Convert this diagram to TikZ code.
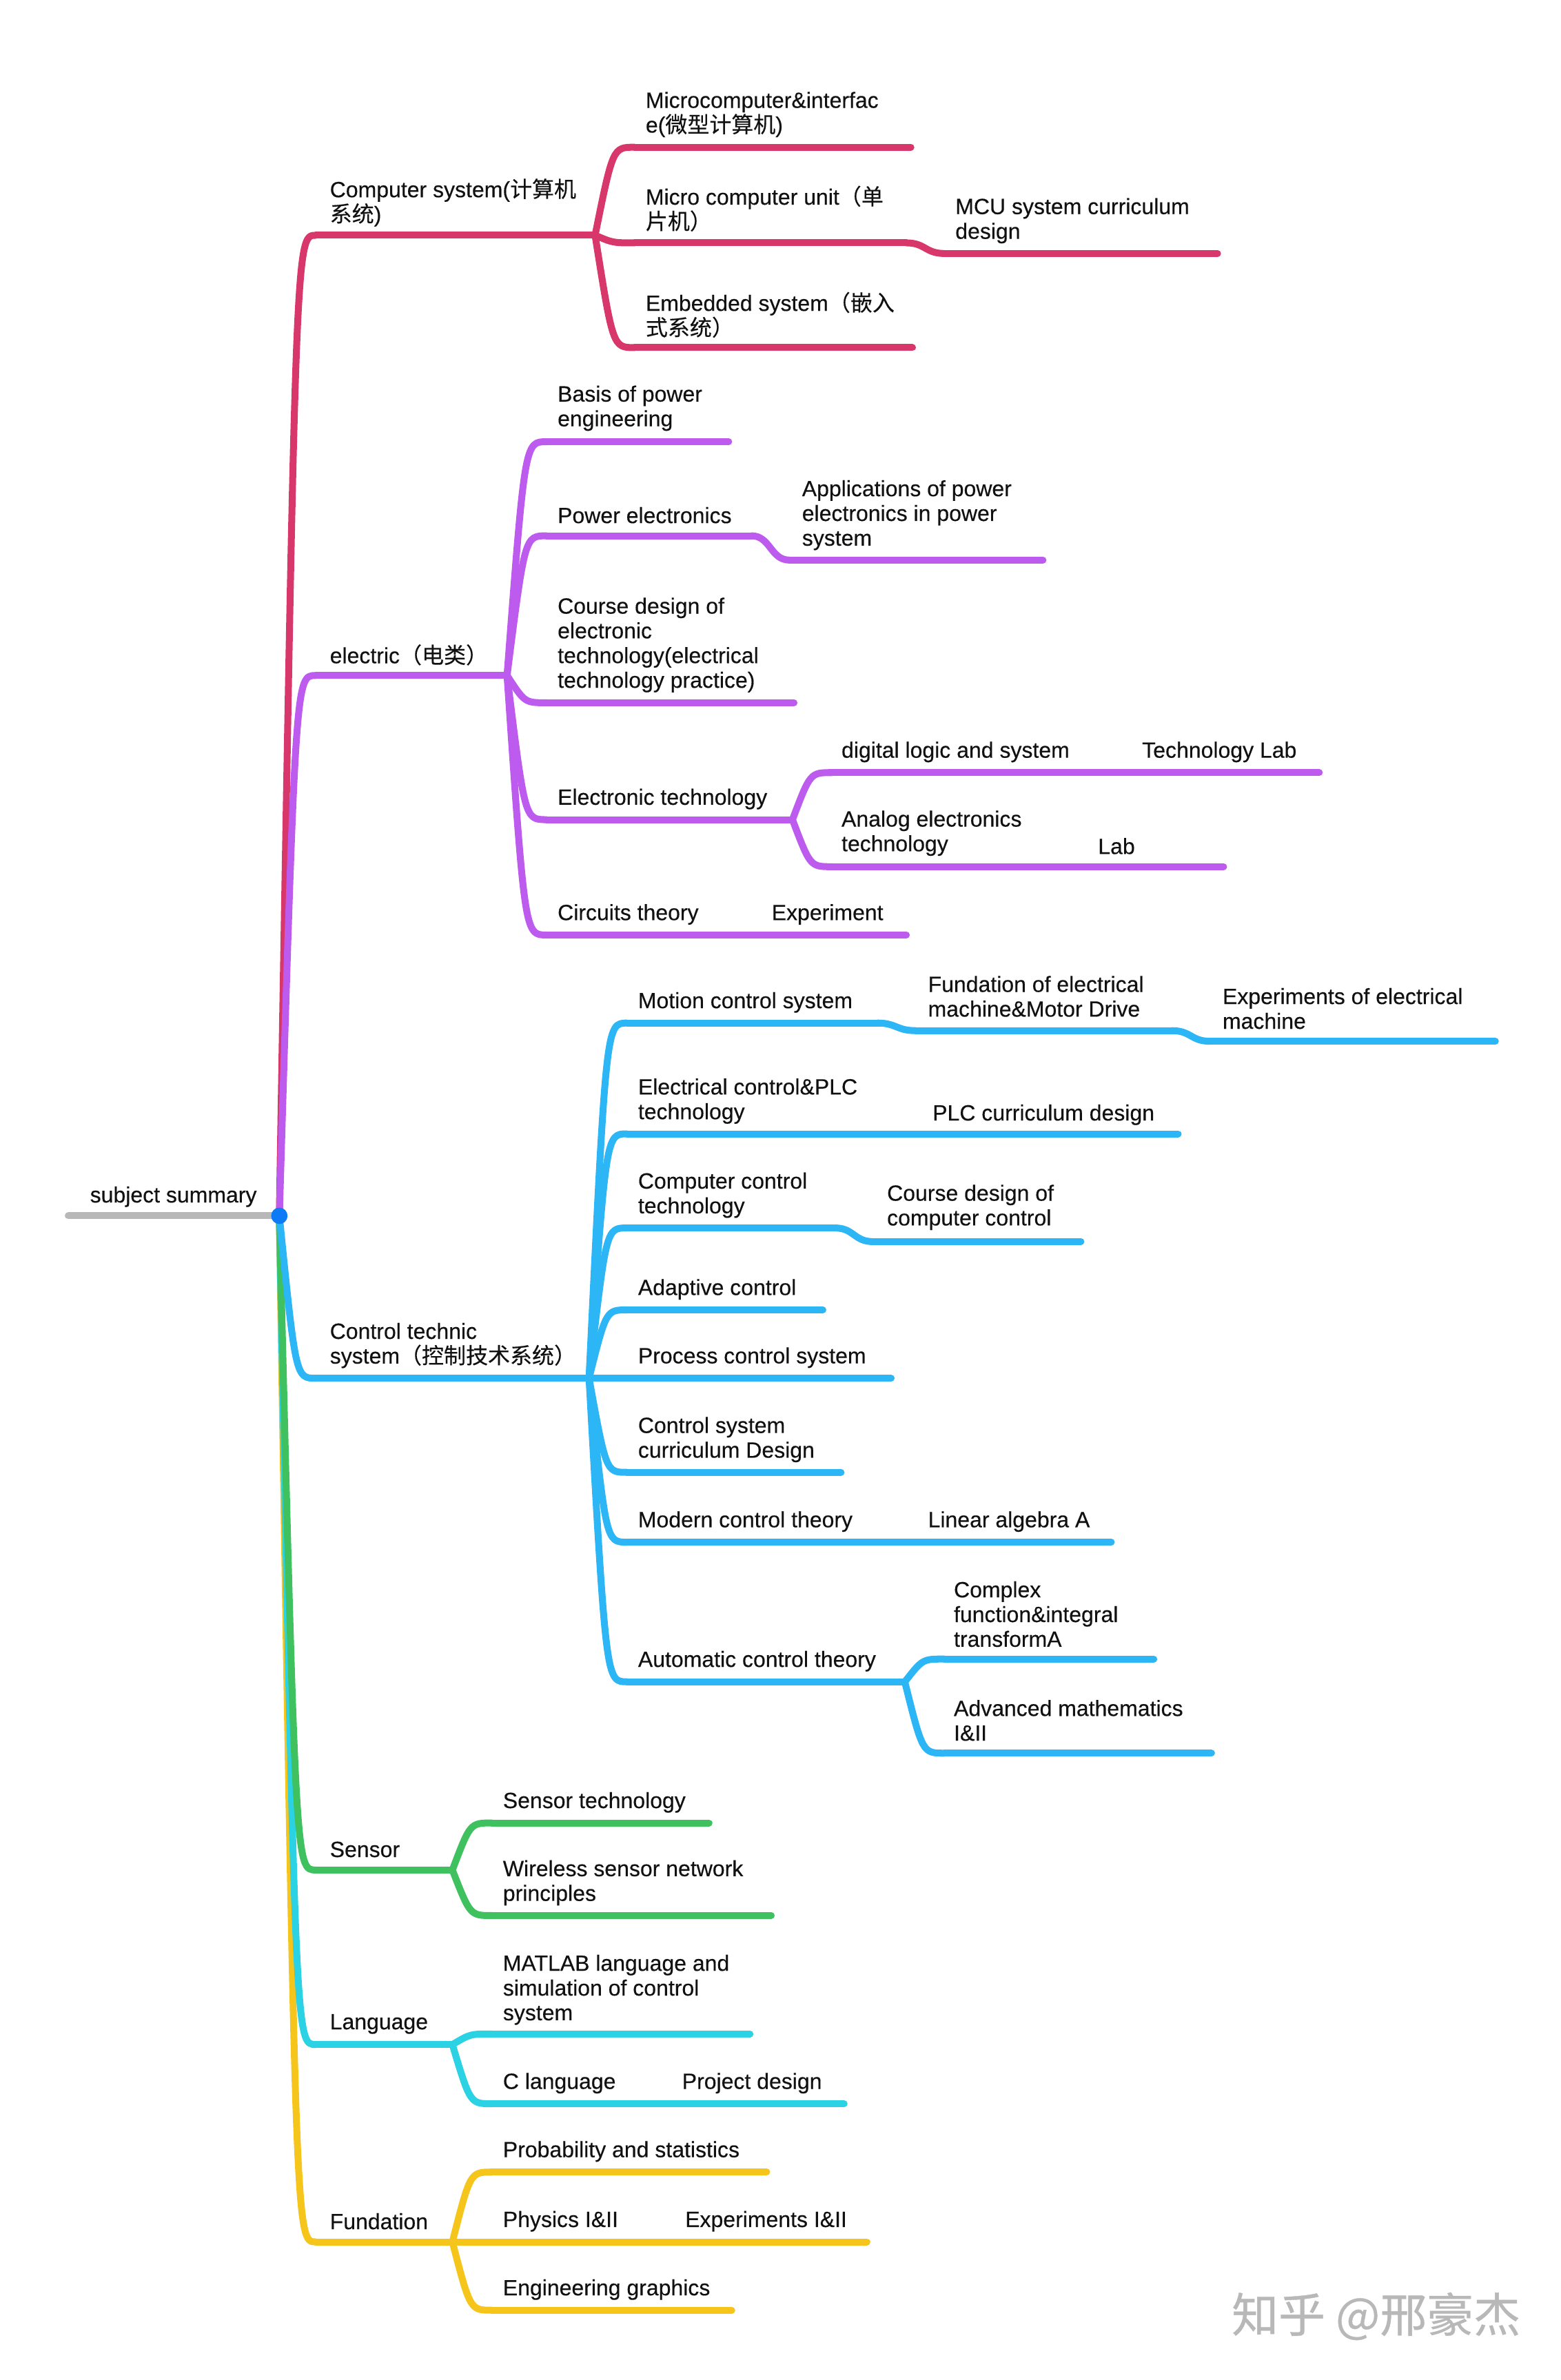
\documentclass[tikz,border=0pt]{standalone}
\usepackage{fontspec}
\setmainfont{Liberation Sans}[FakeBold=0.35]
\newfontfamily\cjk{Noto Sans CJK SC}[FakeBold=0.25]
\newfontfamily\wmfont{Noto Sans CJK SC}[FakeBold=0.6]
\usetikzlibrary{calc}
\definecolor{cRed}{HTML}{D8376B}
\definecolor{cPur}{HTML}{BE5BEF}
\definecolor{cBlu}{HTML}{2DB6F5}
\definecolor{cGrn}{HTML}{3EC15E}
\definecolor{cCya}{HTML}{2BD2E3}
\definecolor{cYel}{HTML}{F6C51B}
\definecolor{cGry}{HTML}{B8B8B8}
\definecolor{cDot}{HTML}{0D7BF5}
\definecolor{cTxt}{HTML}{111111}
\tikzset{
  br/.style={line width=2.85pt, line cap=round, line join=round},
  lbl/.style={anchor=west, inner sep=0pt, align=left, text=cTxt, yshift=-0.9pt,
    font=\fontsize{9.1pt}{10.2pt}\selectfont},
}
\newcommand\conn[3]{\draw[br,#1] let \p1=(#2),\p2=(#3) in (#2) .. controls ({\x1+0.45*(\x2-\x1)},\y2) .. (#3);}
\newcommand\sconn[3]{\draw[br,#1] let \p1=(#2),\p2=(#3) in (#2) .. controls ({0.5*(\x1+\x2)},\y1) and ({0.5*(\x1+\x2)},\y2) .. (#3);}
\begin{document}
\begin{tikzpicture}[x=0.022026cm,y=-0.022026cm]
\useasboundingbox (0,0) rectangle (1028,1568);
% ---------- coordinates ----------
\coordinate (g0) at (45,801);
\coordinate (dot) at (184,801);
% computer system
\coordinate (cs0) at (208,155); \coordinate (cs1) at (392,155);
\coordinate (mi0) at (418,97);  \coordinate (mi1) at (600,97);
\coordinate (mcu0) at (418,160); \coordinate (mcu1) at (597,160);
\coordinate (mcd0) at (622,167); \coordinate (mcd1) at (802,167);
\coordinate (em0) at (418,229); \coordinate (em1) at (601,229);
% electric
\coordinate (el0) at (208,445); \coordinate (el1) at (334,445);
\coordinate (bp0) at (360,291); \coordinate (bp1) at (480,291);
\coordinate (pe0) at (360,353); \coordinate (pe1) at (495,353);
\coordinate (ap0) at (520,369); \coordinate (ap1) at (687,369);
\coordinate (cd0) at (360,463); \coordinate (cd1) at (523,463);
\coordinate (et0) at (360,540); \coordinate (et1) at (522,540);
\coordinate (dl0) at (548,509); \coordinate (dl1) at (869,509);
\coordinate (an0) at (548,571); \coordinate (an1) at (806,571);
\coordinate (ct0) at (360,616); \coordinate (ct1) at (597,616);
% control
\coordinate (co0) at (208,908); \coordinate (co1) at (388,908);
\coordinate (mc0) at (413,674); \coordinate (mc1) at (578,674);
\coordinate (fe0) at (603,679); \coordinate (fe1) at (772,679);
\coordinate (ex0) at (797,686); \coordinate (ex1) at (985,686);
\coordinate (plc0) at (413,747); \coordinate (plc1) at (776,747);
\coordinate (cc0) at (413,809); \coordinate (cc1) at (550,809);
\coordinate (cdc0) at (575,818); \coordinate (cdc1) at (712,818);
\coordinate (ad0) at (413,863); \coordinate (ad1) at (542,863);
\coordinate (pc1) at (587,908);
\coordinate (csd0) at (413,970); \coordinate (csd1) at (554,970);
\coordinate (mo0) at (413,1016); \coordinate (mo1) at (732,1016);
\coordinate (au0) at (413,1108); \coordinate (au1) at (596,1108);
\coordinate (cx0) at (622,1093); \coordinate (cx1) at (760,1093);
\coordinate (am0) at (622,1155); \coordinate (am1) at (798,1155);
% sensor
\coordinate (se0) at (208,1232); \coordinate (se1) at (298,1232);
\coordinate (st0) at (324,1201); \coordinate (st1) at (467,1201);
\coordinate (ws0) at (324,1262); \coordinate (ws1) at (508,1262);
% language
\coordinate (la0) at (208,1347); \coordinate (la1) at (298,1347);
\coordinate (ma0) at (324,1340); \coordinate (ma1) at (494,1340);
\coordinate (cl0) at (324,1386); \coordinate (cl1) at (556,1386);
% fundation
\coordinate (fu0) at (208,1477); \coordinate (fu1) at (298,1477);
\coordinate (pr0) at (324,1431); \coordinate (pr1) at (505,1431);
\coordinate (ph1) at (571,1477);
\coordinate (eg0) at (324,1522); \coordinate (eg1) at (482,1522);

% ---------- trunk branches ----------
\conn{cYel}{dot}{fu0}
\conn{cCya}{dot}{la0}
\conn{cGrn}{dot}{se0}
\conn{cBlu}{dot}{co0}
\conn{cRed}{dot}{cs0}
\conn{cPur}{dot}{el0}
\draw[br,cGry] (g0) -- (dot);

% ---------- computer system ----------
\draw[br,cRed] (cs0) -- (cs1);
\conn{cRed}{cs1}{mi0} \draw[br,cRed] (mi0) -- (mi1);
\conn{cRed}{cs1}{mcu0} \draw[br,cRed] (mcu0) -- (mcu1);
\sconn{cRed}{mcu1}{mcd0} \draw[br,cRed] (mcd0) -- (mcd1);
\conn{cRed}{cs1}{em0} \draw[br,cRed] (em0) -- (em1);

% ---------- electric ----------
\draw[br,cPur] (el0) -- (el1);
\conn{cPur}{el1}{bp0} \draw[br,cPur] (bp0) -- (bp1);
\conn{cPur}{el1}{pe0} \draw[br,cPur] (pe0) -- (pe1);
\sconn{cPur}{pe1}{ap0} \draw[br,cPur] (ap0) -- (ap1);
\conn{cPur}{el1}{cd0} \draw[br,cPur] (cd0) -- (cd1);
\conn{cPur}{el1}{et0} \draw[br,cPur] (et0) -- (et1);
\conn{cPur}{et1}{dl0} \draw[br,cPur] (dl0) -- (dl1);
\conn{cPur}{et1}{an0} \draw[br,cPur] (an0) -- (an1);
\conn{cPur}{el1}{ct0} \draw[br,cPur] (ct0) -- (ct1);

% ---------- control ----------
\draw[br,cBlu] (co0) -- (co1);
\conn{cBlu}{co1}{mc0} \draw[br,cBlu] (mc0) -- (mc1);
\sconn{cBlu}{mc1}{fe0} \draw[br,cBlu] (fe0) -- (fe1);
\sconn{cBlu}{fe1}{ex0} \draw[br,cBlu] (ex0) -- (ex1);
\conn{cBlu}{co1}{plc0} \draw[br,cBlu] (plc0) -- (plc1);
\conn{cBlu}{co1}{cc0} \draw[br,cBlu] (cc0) -- (cc1);
\sconn{cBlu}{cc1}{cdc0} \draw[br,cBlu] (cdc0) -- (cdc1);
\conn{cBlu}{co1}{ad0} \draw[br,cBlu] (ad0) -- (ad1);
\draw[br,cBlu] (co1) -- (pc1);
\conn{cBlu}{co1}{csd0} \draw[br,cBlu] (csd0) -- (csd1);
\conn{cBlu}{co1}{mo0} \draw[br,cBlu] (mo0) -- (mo1);
\conn{cBlu}{co1}{au0} \draw[br,cBlu] (au0) -- (au1);
\conn{cBlu}{au1}{cx0} \draw[br,cBlu] (cx0) -- (cx1);
\conn{cBlu}{au1}{am0} \draw[br,cBlu] (am0) -- (am1);

% ---------- sensor ----------
\draw[br,cGrn] (se0) -- (se1);
\conn{cGrn}{se1}{st0} \draw[br,cGrn] (st0) -- (st1);
\conn{cGrn}{se1}{ws0} \draw[br,cGrn] (ws0) -- (ws1);

% ---------- language ----------
\draw[br,cCya] (la0) -- (la1);
\conn{cCya}{la1}{ma0} \draw[br,cCya] (ma0) -- (ma1);
\conn{cCya}{la1}{cl0} \draw[br,cCya] (cl0) -- (cl1);

% ---------- fundation ----------
\draw[br,cYel] (fu0) -- (fu1);
\conn{cYel}{fu1}{pr0} \draw[br,cYel] (pr0) -- (pr1);
\draw[br,cYel] (fu1) -- (ph1);
\conn{cYel}{fu1}{eg0} \draw[br,cYel] (eg0) -- (eg1);

\fill[cDot] (dot) circle[radius=5.4];

% ---------- labels ----------
\node[lbl] (tRoot) at (59,787) {subject summary};
\node[lbl] (tCS) at (217,132) {Computer system({\cjk 计算机}\\{\cjk 系统})};
\node[lbl] (tMI) at (425,74) {Microcomputer\&interfac\\e({\cjk 微型计算机})};
\node[lbl] (tMCU) at (425,136) {Micro computer unit{\cjk （单}\\{\cjk 片机）}};
\node[lbl] (tMCD) at (629,144) {MCU system curriculum\\design};
\node[lbl] (tEM) at (425,206) {Embedded system{\cjk （嵌入}\\{\cjk 式系统）}};

\node[lbl] (tEL) at (217,430) {electric{\cjk （电类）}};
\node[lbl] (tBP) at (367,267.5) {Basis of power\\engineering};
\node[lbl] (tPE) at (367,338) {Power electronics};
\node[lbl] (tAP) at (528,338) {Applications of power\\electronics in power\\system};
\node[lbl] (tCD) at (367,423.5) {Course design of\\electronic\\technology(electrical\\technology practice)};
\node[lbl] (tET) at (367,525) {Electronic technology};
\node[lbl] (tDL) at (554,494) {digital logic and system};
\node[lbl] (tTL) at (752,494) {Technology Lab};
\node[lbl] (tAN) at (554,547.5) {Analog electronics\\technology};
\node[lbl] (tLab) at (723,556) {Lab};
\node[lbl] (tCT) at (367,601) {Circuits theory};
\node[lbl] (tExp) at (508,601) {Experiment};

\node[lbl] (tCO) at (217,885) {Control technic\\system{\cjk （控制技术系统）}};
\node[lbl] (tMC) at (420,659) {Motion control system};
\node[lbl] (tFE) at (611,655) {Fundation of electrical\\machine\&Motor Drive};
\node[lbl] (tEX) at (805,663) {Experiments of electrical\\machine};
\node[lbl] (tPLC) at (420,724) {Electrical control\&PLC\\technology};
\node[lbl] (tPLCd) at (614,733) {PLC curriculum design};
\node[lbl] (tCC) at (420,786) {Computer control\\technology};
\node[lbl] (tCDC) at (584,794) {Course design of\\computer control};
\node[lbl] (tAD) at (420,848) {Adaptive control};
\node[lbl] (tPC) at (420,893) {Process control system};
\node[lbl] (tCSD) at (420,947) {Control system\\curriculum Design};
\node[lbl] (tMO) at (420,1001) {Modern control theory};
\node[lbl] (tLA) at (611,1001) {Linear algebra A};
\node[lbl] (tAU) at (420,1093) {Automatic control theory};
\node[lbl] (tCX) at (628,1062) {Complex\\function\&integral\\transformA};
\node[lbl] (tAM) at (628,1132) {Advanced mathematics\\I\&II};

\node[lbl] (tSE) at (217,1217) {Sensor};
\node[lbl] (tST) at (331,1186) {Sensor technology};
\node[lbl] (tWS) at (331,1239) {Wireless sensor network\\principles};

\node[lbl] (tLA2) at (217,1332) {Language};
\node[lbl] (tMA) at (331,1309.5) {MATLAB language and\\simulation of control\\system};
\node[lbl] (tCL) at (331,1371) {C language};
\node[lbl] (tPD) at (449,1371) {Project design};

\node[lbl] (tFU) at (217,1462) {Fundation};
\node[lbl] (tPR) at (331,1416) {Probability and statistics};
\node[lbl] (tPH) at (331,1462) {Physics I\&II};
\node[lbl] (tEI) at (451,1462) {Experiments I\&II};
\node[lbl] (tEG) at (331,1507) {Engineering graphics};

\node[anchor=west, inner sep=0pt, text=cGry, font=\wmfont\fontsize{19.3pt}{22pt}\selectfont] (wm) at (811,1526) {知乎 @邢豪杰};
\end{tikzpicture}
\end{document}
